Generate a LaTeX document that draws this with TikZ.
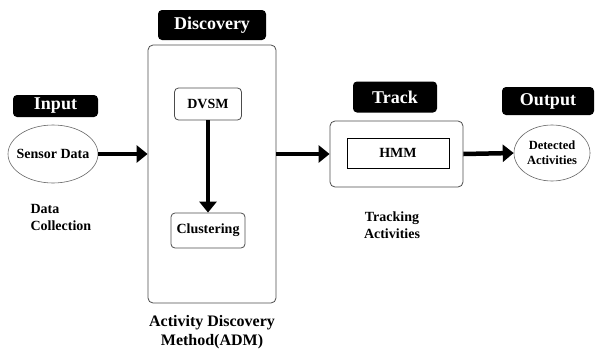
\documentclass[tikz,border=0pt]{standalone}
\usepackage{fontspec}
\setmainfont{Liberation Serif}
\usetikzlibrary{arrows.meta,positioning,shapes.geometric}

\tikzset{
	tagbox/.style={fill=black, text=white, rounded corners=4pt, inner sep=0pt, font=\bfseries\fontsize{18}{18}\selectfont},
	stagebox/.style={draw=black!70, rounded corners=5pt, line width=0.8pt},
	innerbox/.style={draw=black!70, rounded corners=4pt, line width=0.8pt, font=\bfseries\fontsize{14}{16}\selectfont},
	databubble/.style={ellipse, draw=black!60, line width=0.6pt, align=center, inner xsep=-10pt, inner ysep=0pt},
	caption/.style={align=center, font=\bfseries\fontsize{14}{17}\selectfont},
	flow/.style={line width=4.5pt, -{Triangle[length=11pt, width=17pt]}}
}

\begin{document}
\begin{tikzpicture}[x=1pt, y=-1pt]
	\useasboundingbox (0,0) rectangle (598,351);
	
	% INPUT
	\node[tagbox, minimum width=85, minimum height=22] (InputTag) at (55.5,106) {Input};
	\node[databubble, minimum width=90, minimum height=58, font=\bfseries\fontsize{14}{16}\selectfont] (SensorData) at (53,154) {Sensor Data};
	\node[caption, align=left, anchor=west] (DataCollection) at (27,217) {Data\\Collection};
	
	% DISCOVERY
	\node[tagbox, minimum width=108, minimum height=30] (DiscoveryTag) at (212,25) {Discovery};
	\node[stagebox, minimum width=128, minimum height=258] (ADMBox) at (212,174) {};
	\node[innerbox, minimum width=67, minimum height=32] (DVSM) at (208,104) {DVSM};
	\node[innerbox, minimum width=74, minimum height=35] (Clustering) at (208,230.5) {Clustering};
	\node[caption, font=\bfseries\fontsize{16}{19}\selectfont] (ADMText) at (212,332) {Activity Discovery\\Method(ADM)};
	
	% TRACK
	\node[tagbox, minimum width=84, minimum height=31] (TrackTag) at (395,97) {Track};
	\node[stagebox, minimum width=133, minimum height=66] (TrackBox) at (396.5,154) {};
	\node[draw=black, line width=0.6pt, minimum width=102, minimum height=30, font=\bfseries\fontsize{14}{16}\selectfont] (HMM) at (398,153) {HMM};
	\node[caption] (TrackingText) at (392,225) {Tracking\\Activities};
	
	% OUTPUT
	\node[tagbox, minimum width=92, minimum height=28] (OutputTag) at (548,101) {Output};
	\node[databubble, minimum width=76, minimum height=56, font=\bfseries\fontsize{12.5}{15}\selectfont] (Detected) at (552,153) {Detected\\Activities};
	
	% ARROWS
	\draw[flow] (SensorData.east) -- (SensorData -| ADMBox.west);
	\draw[flow] (DVSM.south) -- (Clustering.north);
	\draw[flow] (ADMBox.east |- TrackBox) -- (TrackBox.west);
	\draw[flow] (TrackBox.east) -- (Detected.west);
\end{tikzpicture}
\end{document}
